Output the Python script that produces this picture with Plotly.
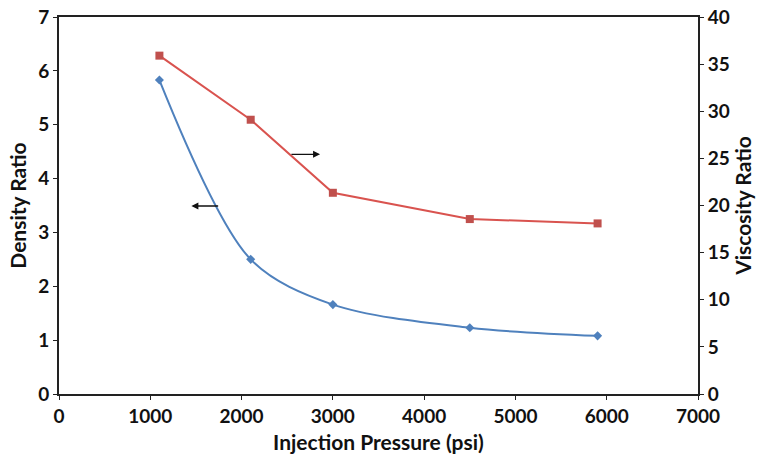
import plotly.graph_objects as go

pressure = [1100, 2100, 3000, 4500, 5900]
density_ratio = [5.83, 2.50, 1.66, 1.23, 1.08]
viscosity_ratio = [35.9, 29.1, 21.35, 18.56, 18.1]

x_ticks = [0, 1000, 2000, 3000, 4000, 5000, 6000, 7000]
y1_ticks = [0, 1, 2, 3, 4, 5, 6, 7]
y2_ticks = [0, 5, 10, 15, 20, 25, 30, 35, 40]

FONT = "Lato"
fig = go.Figure()
fig.add_trace(go.Scatter(
    x=pressure, y=density_ratio, mode="lines+markers",
    line=dict(color="#4F81BD", width=2, shape="spline", smoothing=0.9),
    marker=dict(symbol="diamond", size=7, color="#4F81BD"),
    yaxis="y", showlegend=False))
fig.add_trace(go.Scatter(
    x=pressure, y=viscosity_ratio, mode="lines+markers",
    line=dict(color="#D9534F", width=2),
    marker=dict(symbol="square", size=8, color="#C0504D"),
    yaxis="y2", showlegend=False))

axis_common = dict(showgrid=False, zeroline=False, showline=True, linecolor="#222",
                   linewidth=2, ticks="outside", ticklen=4, tickcolor="#222",
                   automargin=False,
                   tickfont=dict(family=FONT, size=19, color="#111", weight="bold"))
title_font = dict(family=FONT, size=21, color="#111", weight="bold")

fig.update_layout(
    width=762, height=457,
    margin=dict(l=59, r=64, t=17, b=63),
    plot_bgcolor="white", paper_bgcolor="white",
    xaxis=dict(range=[0, 7000], tickvals=x_ticks, mirror=True,
               title=dict(text="Injection Pressure (psi)", standoff=10, font=title_font),
               **axis_common),
    yaxis=dict(range=[0, 7], tickvals=y1_ticks,
               title=dict(text="Density Ratio", standoff=6, font=title_font),
               **axis_common),
    yaxis2=dict(range=[0, 40], tickvals=y2_ticks, overlaying="y", side="right",
                title=dict(text="Viscosity Ratio", standoff=5, font=title_font),
                **axis_common),
)

# arrows indicating which axis each curve belongs to
fig.add_annotation(x=2860, y=4.45, ax=2530, ay=4.45, xref="x", yref="y",
                   axref="x", ayref="y", text="", showarrow=True, arrowhead=2,
                   arrowsize=1, arrowwidth=1.4, arrowcolor="#111")
fig.add_annotation(x=1450, y=3.49, ax=1760, ay=3.49, xref="x", yref="y",
                   axref="x", ayref="y", text="", showarrow=True, arrowhead=2,
                   arrowsize=1, arrowwidth=1.4, arrowcolor="#111")

fig.write_html("out.html")
